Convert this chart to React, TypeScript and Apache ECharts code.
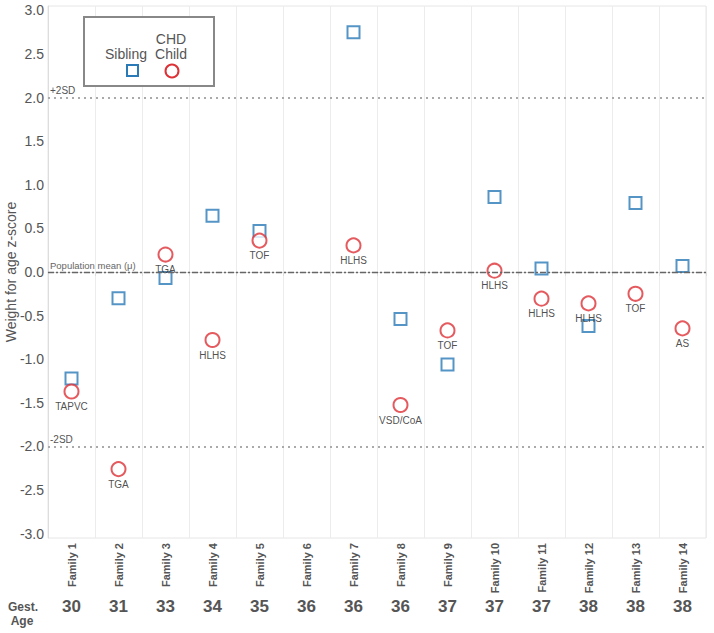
import React, { useEffect, useRef } from "react";
import * as echarts from "echarts";

const families = [
  "Family 1", "Family 2", "Family 3", "Family 4", "Family 5", "Family 6", "Family 7",
  "Family 8", "Family 9", "Family 10", "Family 11", "Family 12", "Family 13", "Family 14",
];
const gestAge = ["30", "31", "33", "34", "35", "36", "36", "36", "37", "37", "37", "38", "38", "38"];
const siblingZ: (number | null)[] = [-1.22, -0.3, -0.07, 0.645, 0.47, null, 2.75, -0.54, -1.06, 0.86, 0.04, -0.62, 0.79, 0.07];
const chdZ: (number | null)[] = [-1.37, -2.26, 0.2, -0.78, 0.36, null, 0.305, -1.525, -0.67, 0.015, -0.306, -0.36, -0.25, -0.647];
const diagnosis = ["TAPVC", "TGA", "TGA", "HLHS", "TOF", "", "HLHS", "VSD/CoA", "TOF", "HLHS", "HLHS", "HLHS", "TOF", "AS"];
const sdLines = [
  { value: 2, label: "+2SD" },
  { value: -2, label: "-2SD" },
];
const meanLine = { value: 0, label: "Population mean (\u03bc)" };

const BLUE = "#2a7ab8";
const RED = "#dd3136";
const GREY = "#555";
const FONT = "'Liberation Sans', Arial, sans-serif";

export default function App() {
  const ref = useRef<HTMLDivElement>(null);
  useEffect(() => {
    document.body.style.margin = "0";
    if (!ref.current) return;
    const chart = echarts.init(ref.current, undefined, { renderer: "svg" });
    const option: any = {
      animation: false,
      backgroundColor: "#fff",
      textStyle: { fontFamily: FONT },
      grid: {
        left: 48,
        right: 8,
        top: 6,
        bottom: 95,
        show: true,
        borderColor: "#e6e6e6",
        borderWidth: 1,
        containLabel: false,
        outerBoundsMode: "none",
      },
      xAxis: [
        {
          type: "category",
          data: families,
          boundaryGap: true,
          position: "bottom",
          axisLine: { show: true, lineStyle: { color: "#ddd" } },
          axisTick: { show: true, length: 4, lineStyle: { color: "#ddd" } },
          splitLine: { show: true, lineStyle: { color: "#ececec", width: 1 } },
          axisLabel: {
            rotate: 90,
            margin: 5,
            fontSize: 11,
            fontWeight: "bold",
            color: GREY,
            fontFamily: FONT,
            interval: 0,
          },
        },
        {
          type: "category",
          data: gestAge,
          boundaryGap: true,
          position: "bottom",
          offset: 52,
          axisLine: { show: false },
          axisTick: { show: false },
          splitLine: { show: false },
          axisLabel: {
            margin: 8,
            fontSize: 17,
            fontWeight: "bold",
            color: GREY,
            fontFamily: FONT,
            interval: 0,
          },
        },
      ],
      yAxis: {
        type: "value",
        min: -3.05,
        max: 3.05,
        interval: 0.05,
        name: "Weight for age z-score",
        nameLocation: "middle",
        nameGap: 30,
        nameMoveOverlap: false,
        nameTextStyle: { fontSize: 14, color: GREY, fontFamily: FONT },
        axisLine: { show: true, lineStyle: { color: "#ddd" } },
        axisTick: { show: false },
        splitLine: { show: false },
        axisLabel: {
          margin: 4,
          fontSize: 14,
          color: GREY,
          fontFamily: FONT,
          formatter: (v: number) => {
            const d = v * 2;
            if (Math.abs(d - Math.round(d)) < 1e-6 && Math.abs(v) <= 3.0001) {
              return (Math.round(d) / 2).toFixed(1);
            }
            return "";
          },
        },
      },
      series: [
        {
          name: "Sibling",
          type: "scatter",
          xAxisIndex: 0,
          data: siblingZ.map((v) => (v === null ? "-" : v)),
          symbol: "rect",
          symbolSize: 12,
          itemStyle: { color: "#fff", borderColor: BLUE, borderWidth: 2 },
          z: 3,
          markLine: {
            silent: true,
            symbol: "none",
            data: [
              ...sdLines.map((s) => ({
                yAxis: s.value,
                lineStyle: { type: [2, 4], color: "#aaa", width: 2 },
                label: {
                  show: true,
                  formatter: s.label,
                  position: "insideStartTop",
                  distance: [2, 2],
                  fontSize: 10,
                  color: GREY,
                  fontFamily: FONT,
                },
              })),
              {
                yAxis: meanLine.value,
                lineStyle: { type: [6, 2, 2, 2], color: "#666", width: 1.3 },
                label: {
                  show: true,
                  formatter: meanLine.label,
                  position: "insideStartTop",
                  distance: [2, 2],
                  fontSize: 9.5,
                  color: "#666",
                  fontFamily: FONT,
                },
              },
            ],
          },
        },
        {
          name: "CHD Child",
          type: "scatter",
          xAxisIndex: 0,
          data: chdZ.map((v) => (v === null ? "-" : v)),
          symbol: "circle",
          symbolSize: 14,
          itemStyle: { color: "#fff", borderColor: RED, borderWidth: 2 },
          z: 4,
          label: {
            show: true,
            position: "bottom",
            distance: 2,
            fontSize: 10,
            color: "#222",
            fontFamily: FONT,
            formatter: (p: any) => diagnosis[p.dataIndex],
          },
        },
      ],
      graphic: [
        {
          type: "rect",
          z: 10,
          shape: { x: 84, y: 17, width: 130, height: 69 },
          style: { fill: "#fff", stroke: "#888", lineWidth: 2 },
        },
        {
          type: "text",
          z: 11,
          x: 126,
          y: 54,
          style: { text: "Sibling", fill: GREY, font: `14px ${FONT}`, textAlign: "center", textVerticalAlign: "middle" },
        },
        {
          type: "text",
          z: 11,
          x: 171,
          y: 39,
          style: { text: "CHD", fill: GREY, font: `14px ${FONT}`, textAlign: "center", textVerticalAlign: "middle" },
        },
        {
          type: "text",
          z: 11,
          x: 171,
          y: 54,
          style: { text: "Child", fill: GREY, font: `14px ${FONT}`, textAlign: "center", textVerticalAlign: "middle" },
        },
        {
          type: "rect",
          z: 11,
          shape: { x: 127, y: 65, width: 11, height: 11 },
          style: { fill: "#fff", stroke: BLUE, lineWidth: 2 },
        },
        {
          type: "circle",
          z: 11,
          shape: { cx: 172, cy: 71, r: 6.5 },
          style: { fill: "#fff", stroke: RED, lineWidth: 2 },
        },
        {
          type: "text",
          x: 23,
          y: 607,
          style: { text: "Gest.", fill: GREY, font: `bold 12px ${FONT}`, textAlign: "center", textVerticalAlign: "middle" },
        },
        {
          type: "text",
          x: 22,
          y: 621,
          style: { text: "Age", fill: GREY, font: `bold 12px ${FONT}`, textAlign: "center", textVerticalAlign: "middle" },
        },
      ],
    };
    chart.setOption(option);
    return () => chart.dispose();
  }, []);
  return <div ref={ref} style={{ width: 714, height: 633 }} />;
}
